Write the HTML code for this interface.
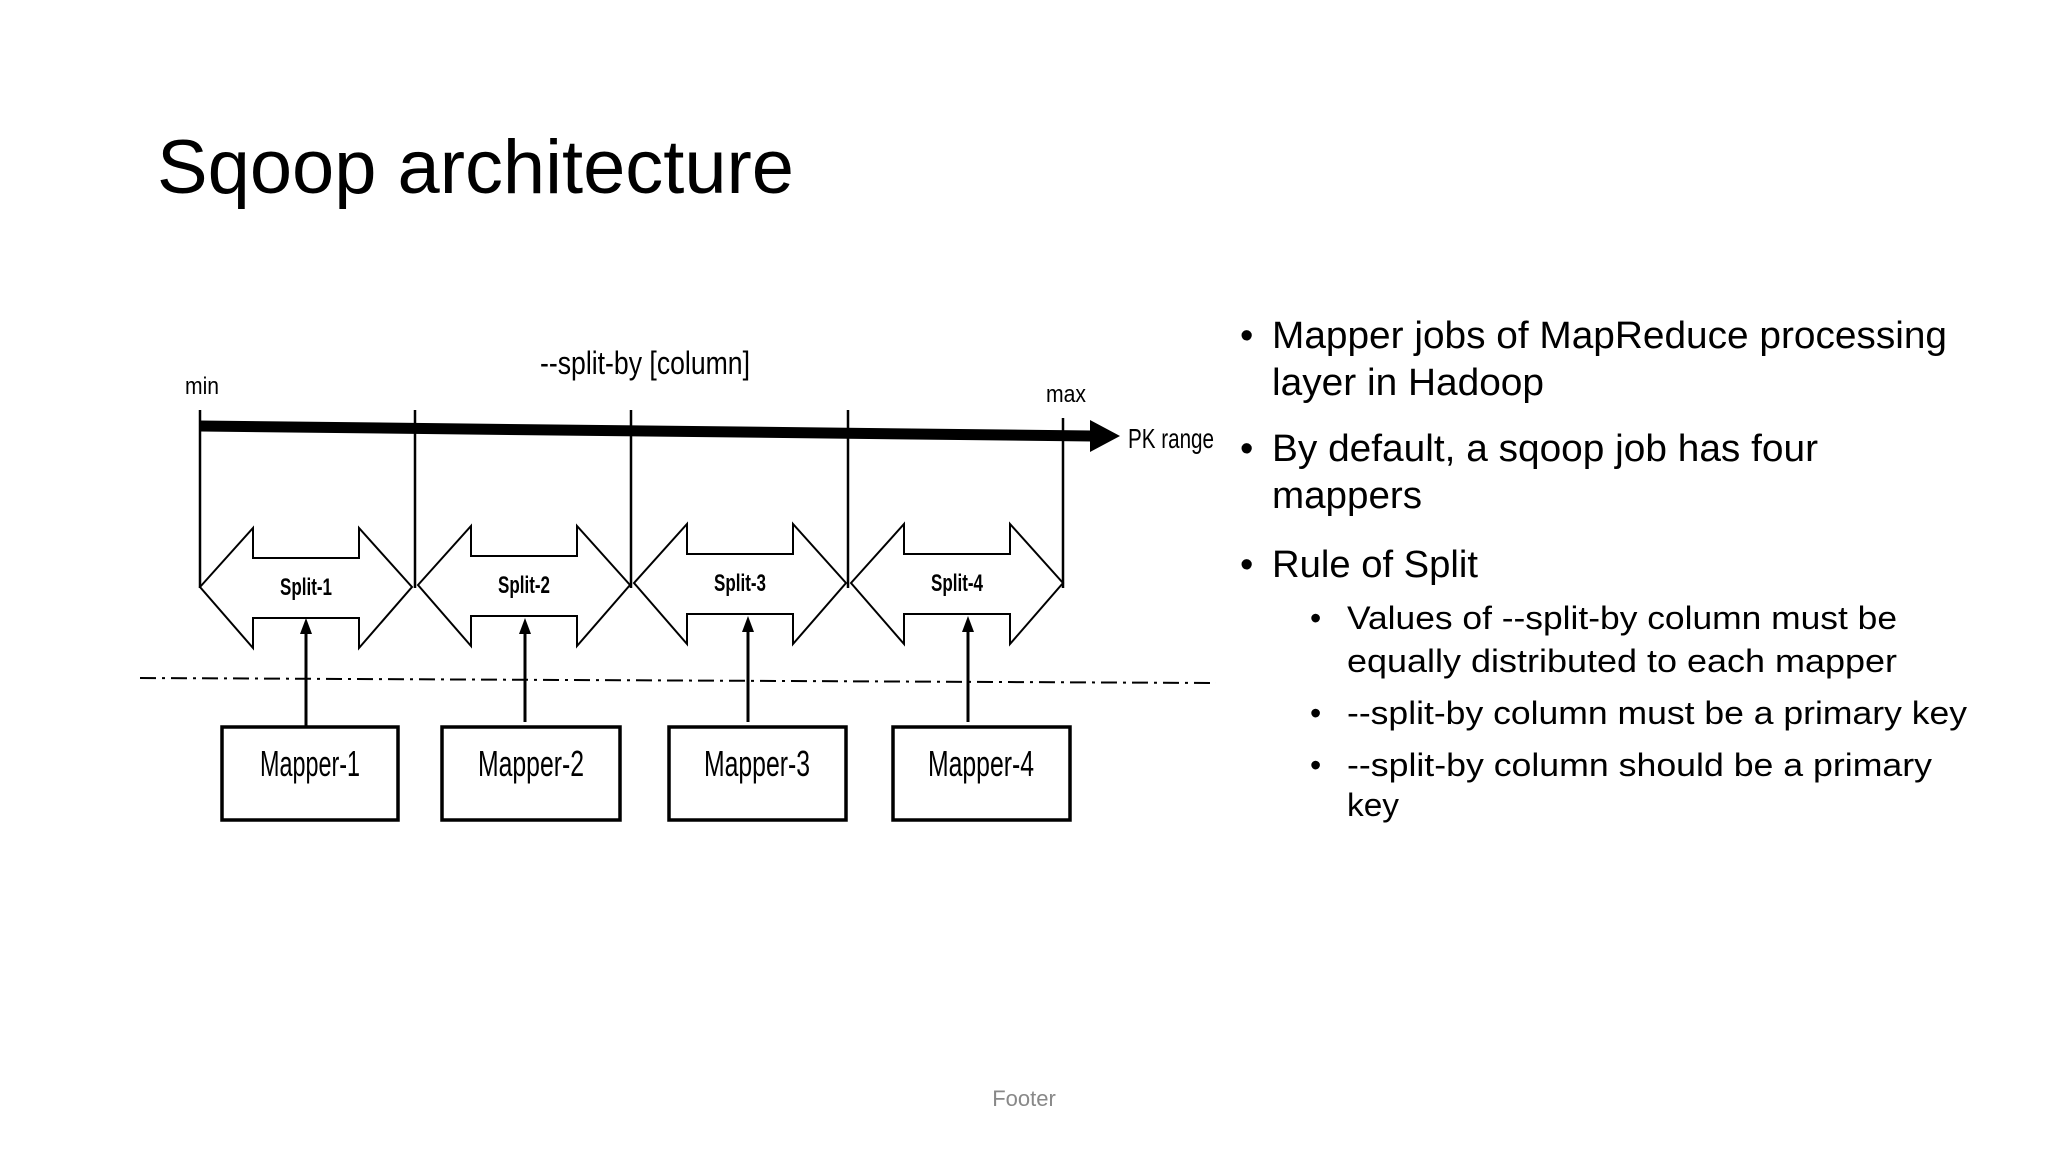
<!DOCTYPE html>
<html><head><meta charset="utf-8"><style>
html,body{margin:0;padding:0;background:#fff;}
svg{display:block}
</style></head><body>
<svg width="2048" height="1152" viewBox="0 0 2048 1152" xmlns="http://www.w3.org/2000/svg">
<rect width="2048" height="1152" fill="#fff"/>
<text x="157" y="193" font-family="Liberation Sans, sans-serif" font-size="76" textLength="637" lengthAdjust="spacingAndGlyphs" fill="#000">Sqoop architecture</text>

<g font-family="Liberation Sans, sans-serif" fill="#000">
<text x="1240" y="348" font-size="38">•</text>
<text x="1272" y="348" font-size="38" textLength="675" lengthAdjust="spacingAndGlyphs">Mapper jobs of MapReduce processing</text>
<text x="1272" y="395" font-size="38" textLength="272" lengthAdjust="spacingAndGlyphs">layer in Hadoop</text>
<text x="1240" y="461" font-size="38">•</text>
<text x="1272" y="461" font-size="38" textLength="546" lengthAdjust="spacingAndGlyphs">By default, a sqoop job has four</text>
<text x="1272" y="508" font-size="38" textLength="150" lengthAdjust="spacingAndGlyphs">mappers</text>
<text x="1240" y="577" font-size="38">•</text>
<text x="1272" y="577" font-size="38" textLength="206" lengthAdjust="spacingAndGlyphs">Rule of Split</text>
<text x="1310" y="629" font-size="32">•</text>
<text x="1347" y="629" font-size="32" textLength="550" lengthAdjust="spacingAndGlyphs">Values of --split-by column must be</text>
<text x="1347" y="672" font-size="32" textLength="550" lengthAdjust="spacingAndGlyphs">equally distributed to each mapper</text>
<text x="1310" y="724" font-size="32">•</text>
<text x="1347" y="724" font-size="32" textLength="620" lengthAdjust="spacingAndGlyphs">--split-by column must be a primary key</text>
<text x="1310" y="776" font-size="32">•</text>
<text x="1347" y="776" font-size="32" textLength="585" lengthAdjust="spacingAndGlyphs">--split-by column should be a primary</text>
<text x="1347" y="816" font-size="32" textLength="52" lengthAdjust="spacingAndGlyphs">key</text>
<text x="1024" y="1106" font-size="22" fill="#888" text-anchor="middle">Footer</text>
</g>

<!-- diagram -->
<g stroke="#000" fill="none">
<line x1="200" y1="426" x2="1092" y2="436" stroke-width="11"/>
<polygon points="1090,420 1120,436 1090,452" fill="#000" stroke="none"/>
<g stroke-width="2.5">
<line x1="200" y1="410" x2="200" y2="588"/>
<line x1="415" y1="410" x2="415" y2="588"/>
<line x1="631" y1="410" x2="631" y2="588"/>
<line x1="848" y1="410" x2="848" y2="588"/>
<line x1="1063" y1="418" x2="1063" y2="588"/>
</g>
<g stroke-width="2" fill="#fff">
<polygon points="200,587 253,528 253,558 359,558 359,528 412,587 359,648 359,618 253,618 253,648"/>
<polygon points="418,585 471,526 471,556 577,556 577,526 630,585 577,646 577,616 471,616 471,646"/>
<polygon points="634,583 687,524 687,554 793,554 793,524 846,583 793,644 793,614 687,614 687,644"/>
<polygon points="851,583 904,524 904,554 1010,554 1010,524 1063,583 1010,644 1010,614 904,614 904,644"/>
</g>
<line x1="140" y1="678" x2="1216" y2="683" stroke-width="2" stroke-dasharray="16,6,3,6"/>
<g stroke-width="3">
<line x1="306" y1="726" x2="306" y2="630"/>
<line x1="525" y1="722" x2="525" y2="630"/>
<line x1="748" y1="722" x2="748" y2="630"/>
<line x1="968" y1="722" x2="968" y2="630"/>
</g>
<g fill="#000" stroke="none">
<polygon points="306,618 300,634 312,634"/>
<polygon points="525,618 519,634 531,634"/>
<polygon points="748,616 742,632 754,632"/>
<polygon points="968,616 962,632 974,632"/>
</g>
<g stroke-width="3.5" fill="#fff">
<rect x="222" y="727" width="176" height="93"/>
<rect x="442" y="727" width="178" height="93"/>
<rect x="669" y="727" width="177" height="93"/>
<rect x="893" y="727" width="177" height="93"/>
</g>
</g>
<g font-family="Liberation Sans, sans-serif" fill="#000">
<text x="645" y="374" font-size="32" text-anchor="middle" textLength="210" lengthAdjust="spacingAndGlyphs">--split-by [column]</text>
<text x="185" y="394" font-size="24" textLength="34" lengthAdjust="spacingAndGlyphs">min</text>
<text x="1046" y="402" font-size="24" textLength="40" lengthAdjust="spacingAndGlyphs">max</text>
<text x="1128" y="448" font-size="28" textLength="86" lengthAdjust="spacingAndGlyphs">PK range</text>
<g font-weight="bold" font-size="24" text-anchor="middle">
<text x="306" y="595" textLength="52" lengthAdjust="spacingAndGlyphs">Split-1</text>
<text x="524" y="593" textLength="52" lengthAdjust="spacingAndGlyphs">Split-2</text>
<text x="740" y="591" textLength="52" lengthAdjust="spacingAndGlyphs">Split-3</text>
<text x="957" y="591" textLength="52" lengthAdjust="spacingAndGlyphs">Split-4</text>
</g>
<g font-size="36" text-anchor="middle">
<text x="310" y="776" textLength="100" lengthAdjust="spacingAndGlyphs">Mapper-1</text>
<text x="531" y="776" textLength="106" lengthAdjust="spacingAndGlyphs">Mapper-2</text>
<text x="757" y="776" textLength="106" lengthAdjust="spacingAndGlyphs">Mapper-3</text>
<text x="981" y="776" textLength="106" lengthAdjust="spacingAndGlyphs">Mapper-4</text>
</g>
</g>
</svg>
</body></html>
